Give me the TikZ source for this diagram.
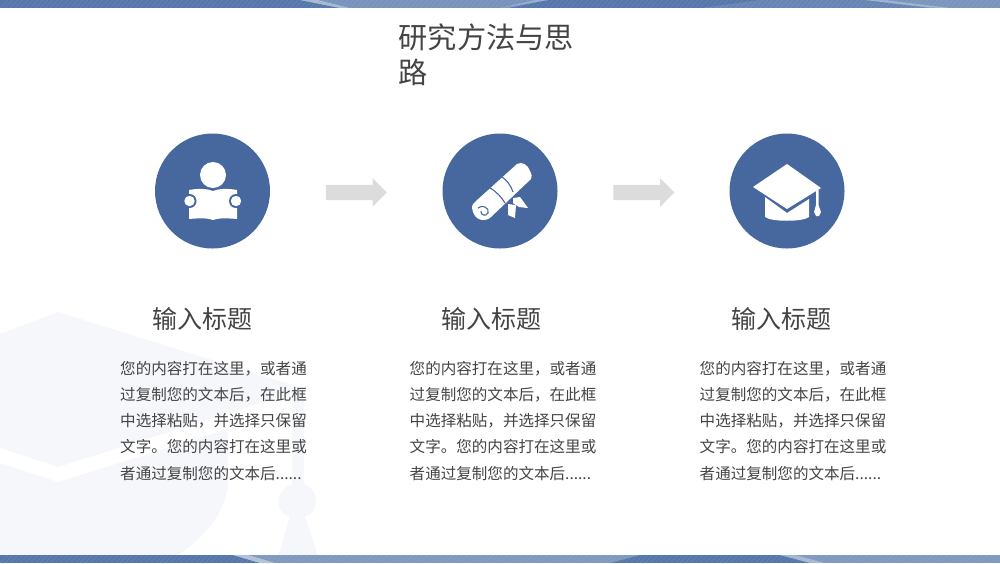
\documentclass[tikz,border=0pt]{standalone}
\usepackage{fontspec}
\setmainfont{Noto Sans CJK SC}
\usetikzlibrary{shapes.arrows}
\definecolor{bandblue}{HTML}{5577AB}
\definecolor{iconblue}{HTML}{46689E}
\definecolor{paleblue}{HTML}{F5F7FB}
\definecolor{greytext}{HTML}{444444}
\definecolor{arrowgrey}{HTML}{DCDCDC}
\begin{document}
\begin{tikzpicture}[x=1pt,y=-1pt]
 \tikzset{icon circle/.style={
    circle,
    fill=iconblue,
    minimum size=#1,
    inner sep=0pt
  },
  icon circle/.default=115pt,
  step arrow/.style={
    single arrow,
    fill=arrowgrey,
    text height=15pt,
    minimum width=28pt,
    minimum height=61pt,
    single arrow head extend=6.5pt,
    single arrow head indent=0pt,
    inner sep=0pt
  },
  head text/.style={
    text=greytext,
    font=\fontsize{25pt}{30pt}\selectfont,
    inner sep=0pt
  },
  body text/.style={
    text=greytext,
    font=\fontsize{15.55pt}{26.2pt}\selectfont,
    text width=190pt,
    align=left,
    anchor=north west,
    inner sep=0pt
  },
  icon part/.style={fill=white,draw=none},
  icon cut/.style={draw=iconblue,line width=1.1pt}
}
\useasboundingbox (0,0) rectangle (1000,563);
% watermark cap
\fill[paleblue] (0,334) -- (58,312) -- (305,389) -- (58,467) -- (0,448) -- cycle;
\fill[paleblue] (0,463) -- (58,482) -- (228,429) -- (228,487)
  .. controls (222,520) and (200,540) .. (178,555) -- (0,555) -- cycle;
\fill[paleblue] (292,393) -- (304,389) -- (304,484)
  .. controls (320,490) and (320,512) .. (305,517)
  .. controls (310,530) and (314,543) .. (317,555) -- (279,555)
  .. controls (282,543) and (286,530) .. (290,517)
  .. controls (274,512) and (274,490) .. (292,484) -- cycle;
% bands
\foreach \ytop in {0,555}{
  \fill[bandblue] (0,\ytop) rectangle (1000,\ytop+8);
  \foreach \xs in {0,5,...,1000}
    \draw[white,opacity=0.08,line width=1pt] (\xs,\ytop+8) -- (\xs+8,\ytop);
}
\begin{scope}
\clip (0,0) rectangle (1000,8);
\fill[white,opacity=0.2] (300,0) -- (340,8) -- (500,8) -- (548,0) -- cycle;
\fill[white,opacity=0.35] (300,0) -- (340,8) -- (350,8) -- (318,0) -- cycle;
\fill[white,opacity=0.25] (500,8) -- (508,8) -- (548,0) -- (535,0) -- cycle;
\fill[white,opacity=0.1] (700,8) -- (760,0) -- (870,0) -- (950,8) -- cycle;
\fill[white,opacity=0.22] (865,0) -- (940,8) -- (1000,8) -- (1000,0) -- cycle;
\fill[white,opacity=0.25] (865,0) -- (930,8) -- (950,8) -- (885,0) -- cycle;
\end{scope}
\begin{scope}
\clip (0,555) rectangle (1000,563);
\fill[white,opacity=0.25] (233,555) -- (260,563) -- (610,563) -- (640,555) -- cycle;
\fill[white,opacity=0.4] (233,555) -- (260,563) -- (275,563) -- (248,555) -- cycle;
\fill[white,opacity=0.25] (780,555) -- (810,563) -- (1000,563) -- (1000,555) -- cycle;
\fill[white,opacity=0.3] (780,555) -- (810,563) -- (825,563) -- (795,555) -- cycle;
\end{scope}
% title
\node[text=greytext,font=\fontsize{29.2pt}{35pt}\selectfont,text width=180pt,align=left,
  anchor=north west,inner sep=0pt] (title) at (398.5,24) {研究方法与思\\路};
% three columns
\node[icon circle] (reader) at (212.5,191) {};
\node[icon circle] (scroll) at (500,191) {};
\node[icon circle] (cap) at (787,191) {};
\node[step arrow] (arrowa) at (352.5,192.5) {};
\node[step arrow] (arrowb) at (640,192.5) {};
\foreach \name/\xh/\xb in {heada/202/120,headb/491.5/409.5,headc/781/699.5}{
  \node[head text] (\name) at (\xh,319) {输入标题};
  \node[body text] (\name body) at (\xb,361) {您的内容打在这里，或者通\\过复制您的文本后，在此框\\中选择粘贴，并选择只保留\\文字。您的内容打在这里或\\者通过复制您的文本后......};
}
% reader icon
\fill[icon part] (213,175) circle (13);
\fill[icon part] (189,190) .. controls (200,188) and (208,189) .. (213,191)
  .. controls (218,189) and (226,188) .. (237,190) -- (237,219)
  .. controls (226,218) and (218,218) .. (213,220)
  .. controls (208,218) and (200,218) .. (189,219) -- cycle;
\fill[iconblue] (189.5,201) circle (7);
\fill[iconblue] (236,201) circle (7);
\fill[icon part] (189.5,201) circle (5.2);
\fill[icon part] (236,201) circle (5.2);
% scroll icon
\fill[icon part] (472,208) .. controls (472,204) and (474,203) .. (476,201)
  -- (517,164) .. controls (522,161) and (528,165) .. (530,171)
  .. controls (532,175) and (532,177) .. (531,179) -- (491,217)
  .. controls (486,222) and (474,222) .. (472,208) -- cycle;
\draw[icon cut] (478,208) .. controls (482,204) and (490,208) .. (488,213)
  .. controls (486,217) and (480,215) .. (481,211);
\draw[icon cut] (490,188) .. controls (496,191) and (502,198) .. (505,203);
\draw[icon cut] (502,177) .. controls (507,180) and (511,186) .. (513,192);
\fill[icon part] (513,198) -- (520,197) -- (528,208) -- (519,207) -- (513,203) -- cycle;
\fill[icon part] (508,204) -- (516,205) -- (515,218) -- (508,215) -- cycle;
% cap icon
\fill[icon part] (787,164) -- (821,188) -- (787,209) -- (753,187) -- cycle;
\fill[icon part] (765,197) -- (787,213) -- (809,199) -- (809,217)
  .. controls (803,222) and (771,222) .. (765,217) -- cycle;
\fill[icon part] (816,191) -- (818.5,189.5) -- (818.5,205) -- (821,212) -- (819,216) -- (816,216) -- (814,212) -- (816,205) -- cycle;
\end{tikzpicture}
\end{document}
